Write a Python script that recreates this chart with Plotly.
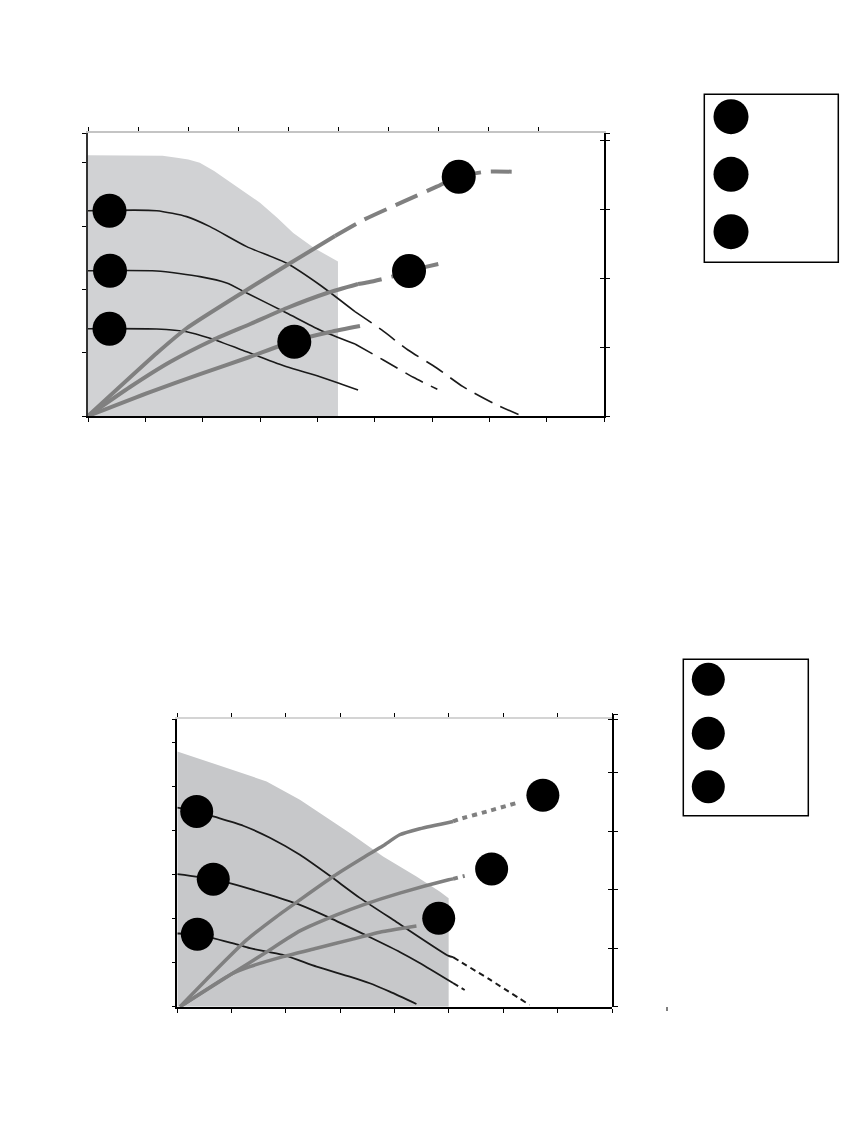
import plotly.graph_objects as go

W, H = 849, 1121
OFF = 8  # page body margin of the rendered page

# ---------------- Panel 1 (upper chart) ----------------
# x: flow units 0..9 (bottom axis), y: head units (left axis)
p1_shade_x = [0, 1.05, 1.3, 1.55, 1.75, 1.95, 2.2, 2.42, 2.7, 3.0, 3.3, 3.58, 3.95, 4.36, 4.36, 0]
p1_shade_y = [4.12, 4.12, 4.11, 4.08, 4.05, 4.0, 3.87, 3.73, 3.55, 3.37, 3.13, 2.89, 2.65, 2.44, 0, 0]

p1_head1_x = [0, 1.198, 1.721, 2.128, 2.768, 3.466, 4.046, 4.657]
p1_head1_y = [3.243, 3.243, 3.149, 2.991, 2.675, 2.412, 2.069, 1.648]
p1_head1_ext_x = [4.657, 5.123, 5.582, 6.082, 6.541, 7.064, 7.565]
p1_head1_ext_y = [1.648, 1.359, 1.043, 0.758, 0.463, 0.205, 0.0]

p1_head2_x = [0, 1.198, 1.954, 2.419, 2.768, 3.466, 4.046, 4.657]
p1_head2_y = [2.295, 2.291, 2.201, 2.101, 1.943, 1.627, 1.359, 1.137]
p1_head2_ext_x = [4.657, 5.151, 5.674, 6.093]
p1_head2_ext_y = [1.137, 0.885, 0.611, 0.422]

p1_head3_x = [0, 1.198, 1.721, 2.128, 2.768, 3.466, 4.046, 4.710]
p1_head3_y = [1.379, 1.374, 1.332, 1.227, 1.015, 0.778, 0.621, 0.411]

p1_sys1_x = [0, 1.198, 1.721, 2.768, 3.523, 4.308]
p1_sys1_y = [0, 0.991, 1.386, 1.991, 2.412, 2.844]
p1_sys1_ext_x = [4.308, 4.802, 5.500, 6.082, 6.459, 6.954, 7.390]
p1_sys1_ext_y = [2.844, 3.096, 3.385, 3.622, 3.780, 3.859, 3.859]

p1_sys2_x = [0, 0.733, 1.43, 2.18, 2.83, 3.47, 4.17, 4.71]
p1_sys2_y = [0, 0.458, 0.853, 1.201, 1.453, 1.706, 1.943, 2.085]
p1_sys2_ext_x = [4.71, 4.89, 5.30, 5.60, 6.11]
p1_sys2_ext_y = [2.085, 2.112, 2.201, 2.291, 2.401]

p1_sys3_x = [0, 1.081, 1.954, 2.768, 3.593, 4.221, 4.744]
p1_sys3_y = [0, 0.379, 0.663, 0.916, 1.185, 1.327, 1.422]

p1_dot_x = [0.375, 0.384, 0.375, 3.598, 5.599, 6.466]
p1_dot_y = [3.243, 2.295, 1.379, 1.174, 2.291, 3.780]

p1_xticks = [0, 1, 2, 3, 4, 5, 6, 7, 8, 9]
p1_top_xticks = [0, 1, 2, 3, 4, 5, 6, 7, 8, 9]
p1_left_ticks = [0, 1, 2, 3, 4, 4.47]
p1_right_ticks = [0, 1, 2, 3, 4, 4.11]

# ---------------- Panel 2 (lower chart) ----------------
p2_shade_x = [0, 1.643, 2.256, 3.175, 3.787, 4.401, 4.829, 4.994, 4.994, 0]
p2_shade_y = [5.795, 5.114, 4.698, 3.941, 3.409, 2.955, 2.614, 2.464, 0, 0]

p2_head1_x = [0, 0.357, 0.662, 1.213, 1.704, 2.256, 2.807, 3.358, 4.032, 4.994, 5.074]
p2_head1_y = [4.516, 4.432, 4.318, 4.107, 3.834, 3.447, 2.970, 2.470, 1.925, 1.152, 1.123]
p2_head1_ext_x = [5.074, 5.748, 6.483]
p2_head1_ext_y = [1.123, 0.618, 0.039]

p2_head2_x = [0, 0.662, 1.336, 1.704, 2.256, 2.807, 3.419, 4.093, 4.461, 5.074]
p2_head2_y = [3.007, 2.893, 2.673, 2.536, 2.311, 2.016, 1.652, 1.243, 0.993, 0.538]
p2_head2_ext_x = [5.074, 5.289]
p2_head2_ext_y = [0.538, 0.379]

p2_head3_x = [0, 0.362, 1.029, 1.336, 1.949, 2.563, 3.175, 3.542, 3.910, 4.401]
p2_head3_y = [1.661, 1.643, 1.436, 1.327, 1.175, 0.909, 0.682, 0.532, 0.341, 0.061]

p2_sys1_x = [0.05, 0.601, 1.276, 1.827, 2.256, 2.868, 3.419, 3.787, 4.093, 4.461, 5.074]
p2_sys1_y = [0, 0.698, 1.516, 2.045, 2.425, 2.955, 3.380, 3.652, 3.902, 4.039, 4.205]
p2_sys1_ext_x = [5.074, 5.197, 5.748, 6.239]
p2_sys1_ext_y = [4.205, 4.259, 4.448, 4.623]

p2_sys2_x = [0.05, 0.998, 1.643, 2.256, 2.930, 3.419, 4.093, 4.994, 5.074]
p2_sys2_y = [0, 0.743, 1.243, 1.720, 2.084, 2.311, 2.577, 2.880, 2.902]
p2_sys2_ext_x = [5.074, 5.289]
p2_sys2_ext_y = [2.902, 2.970]

p2_sys3_x = [0.05, 0.998, 1.336, 1.949, 2.563, 3.175, 3.787, 4.401]
p2_sys3_y = [0, 0.743, 0.909, 1.136, 1.327, 1.516, 1.705, 1.834]

p2_dot_x = [0.357, 0.662, 0.368, 4.811, 5.785, 6.728]
p2_dot_y = [4.432, 2.895, 1.645, 2.007, 3.127, 4.800]

p2_xticks = [0, 1, 2, 3, 4, 5, 6, 7, 8]
p2_left_ticks = [0, 1, 2, 3, 4, 5, 6, 6.53]
p2_right_ticks = [0, 1, 2, 3, 4, 4.91, 5]

# ---------------- Legend keys (page pixel layout) ----------------
leg1_box = (704.3, 94.3, 838.3, 262.3)
leg1_dot_x = [731, 731, 731]
leg1_dot_y = [116.7, 174.3, 231.7]
leg2_box = (683.3, 659.3, 808.3, 815.7)
leg2_dot_x = [708.3, 708.3, 708.3]
leg2_dot_y = [679.3, 733.3, 786.7]

BLACK = "#1a1a1a"
GRAY = "#808080"

fig = go.Figure()


def line(x, y, xa, ya, color, width, dash=None):
    fig.add_trace(go.Scatter(
        x=x, y=y, xaxis=xa, yaxis=ya, mode="lines",
        line=dict(color=color, width=width, dash=dash, shape="spline", smoothing=0.6),
        showlegend=False, hoverinfo="skip"))


def empty(xa, ya):
    fig.add_trace(go.Scatter(x=[], y=[], xaxis=xa, yaxis=ya, showlegend=False))


# Panel 1
fig.add_trace(go.Scatter(x=p1_shade_x, y=p1_shade_y, xaxis="x", yaxis="y",
                         fill="toself", fillcolor="#d1d2d4", mode="lines",
                         line=dict(width=0, color="#d1d2d4"),
                         showlegend=False, hoverinfo="skip"))
line(p1_head1_x, p1_head1_y, "x", "y", BLACK, 1.6)
line(p1_head1_ext_x, p1_head1_ext_y, "x", "y", BLACK, 1.6, "20px,9px")
line(p1_head2_x, p1_head2_y, "x", "y", BLACK, 1.6)
line(p1_head2_ext_x, p1_head2_ext_y, "x", "y", BLACK, 1.6, "20px,9px")
line(p1_head3_x, p1_head3_y, "x", "y", BLACK, 1.6)
line(p1_sys1_x, p1_sys1_y, "x", "y", GRAY, 4)
line(p1_sys1_ext_x, p1_sys1_ext_y, "x", "y", GRAY, 4, "24px,10px")
line(p1_sys2_x, p1_sys2_y, "x", "y", GRAY, 4)
line(p1_sys2_ext_x, p1_sys2_ext_y, "x", "y", GRAY, 4, "24px,10px")
line(p1_sys3_x, p1_sys3_y, "x", "y", GRAY, 4)
fig.add_trace(go.Scatter(x=p1_dot_x, y=p1_dot_y, xaxis="x", yaxis="y", mode="markers",
                         marker=dict(size=34, color="black"), showlegend=False, hoverinfo="skip"))

# Panel 2
fig.add_trace(go.Scatter(x=p2_shade_x, y=p2_shade_y, xaxis="x2", yaxis="y3",
                         fill="toself", fillcolor="#c7c8ca", mode="lines",
                         line=dict(width=0, color="#c7c8ca"),
                         showlegend=False, hoverinfo="skip"))
line(p2_head1_x, p2_head1_y, "x2", "y3", BLACK, 1.8)
line(p2_head1_ext_x, p2_head1_ext_y, "x2", "y3", BLACK, 2, "6px,4px")
line(p2_head2_x, p2_head2_y, "x2", "y3", BLACK, 1.8)
line(p2_head2_ext_x, p2_head2_ext_y, "x2", "y3", BLACK, 2, "6px,4px")
line(p2_head3_x, p2_head3_y, "x2", "y3", BLACK, 1.8)
line(p2_sys1_x, p2_sys1_y, "x2", "y3", GRAY, 3.5)
line(p2_sys1_ext_x, p2_sys1_ext_y, "x2", "y3", GRAY, 4, "5px,5px")
line(p2_sys2_x, p2_sys2_y, "x2", "y3", GRAY, 3.5)
line(p2_sys2_ext_x, p2_sys2_ext_y, "x2", "y3", GRAY, 4, "5px,5px")
line(p2_sys3_x, p2_sys3_y, "x2", "y3", GRAY, 3.5)
fig.add_trace(go.Scatter(x=p2_dot_x, y=p2_dot_y, xaxis="x2", yaxis="y3", mode="markers",
                         marker=dict(size=33, color="black"), showlegend=False, hoverinfo="skip"))

# Legend keys on a page-pixel axis
fig.add_trace(go.Scatter(x=leg1_dot_x, y=leg1_dot_y, xaxis="x5", yaxis="y5", mode="markers",
                         marker=dict(size=35, color="black"), showlegend=False, hoverinfo="skip"))
fig.add_trace(go.Scatter(x=leg2_dot_x, y=leg2_dot_y, xaxis="x5", yaxis="y5", mode="markers",
                         marker=dict(size=33, color="black"), showlegend=False, hoverinfo="skip"))

for xa, ya in [("x3", "y"), ("x", "y2"), ("x", "y7"), ("x4", "y3"), ("x2", "y4"), ("x2", "y8")]:
    empty(xa, ya)


# domains (screen pixels -> paper), accounting for the page margin
def px(v):
    return (v - OFF) / W


def py(v):
    return 1 - (v - OFF) / H


d1x = [px(88), px(604)]
d1y = [py(416), py(133)]
d2x = [px(177.3), px(612)]
d2y = [py(1006.7), py(719)]
d2yr = [py(1006.7), py(714)]

base = dict(showgrid=False, zeroline=False, showticklabels=False, ticklen=4,
            tickcolor="black", tickwidth=1, showline=True)

fig.update_layout(
    width=W, height=H, margin=dict(l=0, r=0, t=0, b=0),
    paper_bgcolor="white", plot_bgcolor="rgba(0,0,0,0)", showlegend=False,
    xaxis=dict(base, domain=d1x, anchor="y", range=[0, 9], tickvals=p1_xticks,
               ticks="outside", linecolor="black", linewidth=2),
    xaxis3=dict(base, overlaying="x", side="top", anchor="y", range=[0, 10.32],
                tickvals=p1_top_xticks, ticks="outside", linecolor="#c4c4c4", linewidth=2),
    yaxis=dict(base, domain=d1y, anchor="x", range=[0, 4.47], tickvals=p1_left_ticks,
               ticks="outside", linecolor="#333333", linewidth=1.5),
    yaxis2=dict(base, overlaying="y", side="right", anchor="x", range=[0, 4.11],
                tickvals=p1_right_ticks, ticks="outside", linecolor="black", linewidth=1.5),
    yaxis7=dict(base, overlaying="y", side="right", anchor="x", range=[0, 4.11],
                tickvals=p1_right_ticks, ticks="inside", showline=False),
    xaxis2=dict(base, domain=d2x, anchor="y3", range=[0, 8], tickvals=p2_xticks,
                ticks="outside", linecolor="black", linewidth=2),
    xaxis4=dict(base, overlaying="x2", side="top", anchor="y3", range=[0, 8],
                tickvals=p2_xticks, ticks="outside", linecolor="#d4d4d4", linewidth=2),
    yaxis3=dict(base, domain=d2y, anchor="x2", range=[0, 6.53], tickvals=p2_left_ticks,
                ticks="outside", linecolor="black", linewidth=1.5),
    yaxis4=dict(base, domain=d2yr, anchor="x2", side="right", range=[0, 5.0],
                tickvals=p2_right_ticks, ticks="outside", linecolor="black", linewidth=1.5),
    yaxis8=dict(base, overlaying="y4", side="right", anchor="x2", range=[0, 5.0],
                tickvals=p2_right_ticks, ticks="inside", showline=False),
    xaxis5=dict(domain=[0, 1], anchor="y5", range=[OFF, W + OFF], visible=False, fixedrange=True),
    yaxis5=dict(domain=[0, 1], anchor="x5", range=[H + OFF, OFF], visible=False, fixedrange=True),
)

shapes = []
for (x0, y0, x1, y1) in [leg1_box, leg2_box]:
    shapes.append(dict(type="rect", xref="x5", yref="y5", x0=x0, y0=y0, x1=x1, y1=y1,
                       line=dict(color="black", width=1.5), fillcolor="rgba(0,0,0,0)"))
# stray tick right of lower chart's bottom axis
shapes.append(dict(type="line", xref="x5", yref="y5", x0=667, x1=667, y0=1007, y1=1011,
                   line=dict(color="black", width=1)))
fig.update_layout(shapes=shapes)

fig.write_html("out.html")
